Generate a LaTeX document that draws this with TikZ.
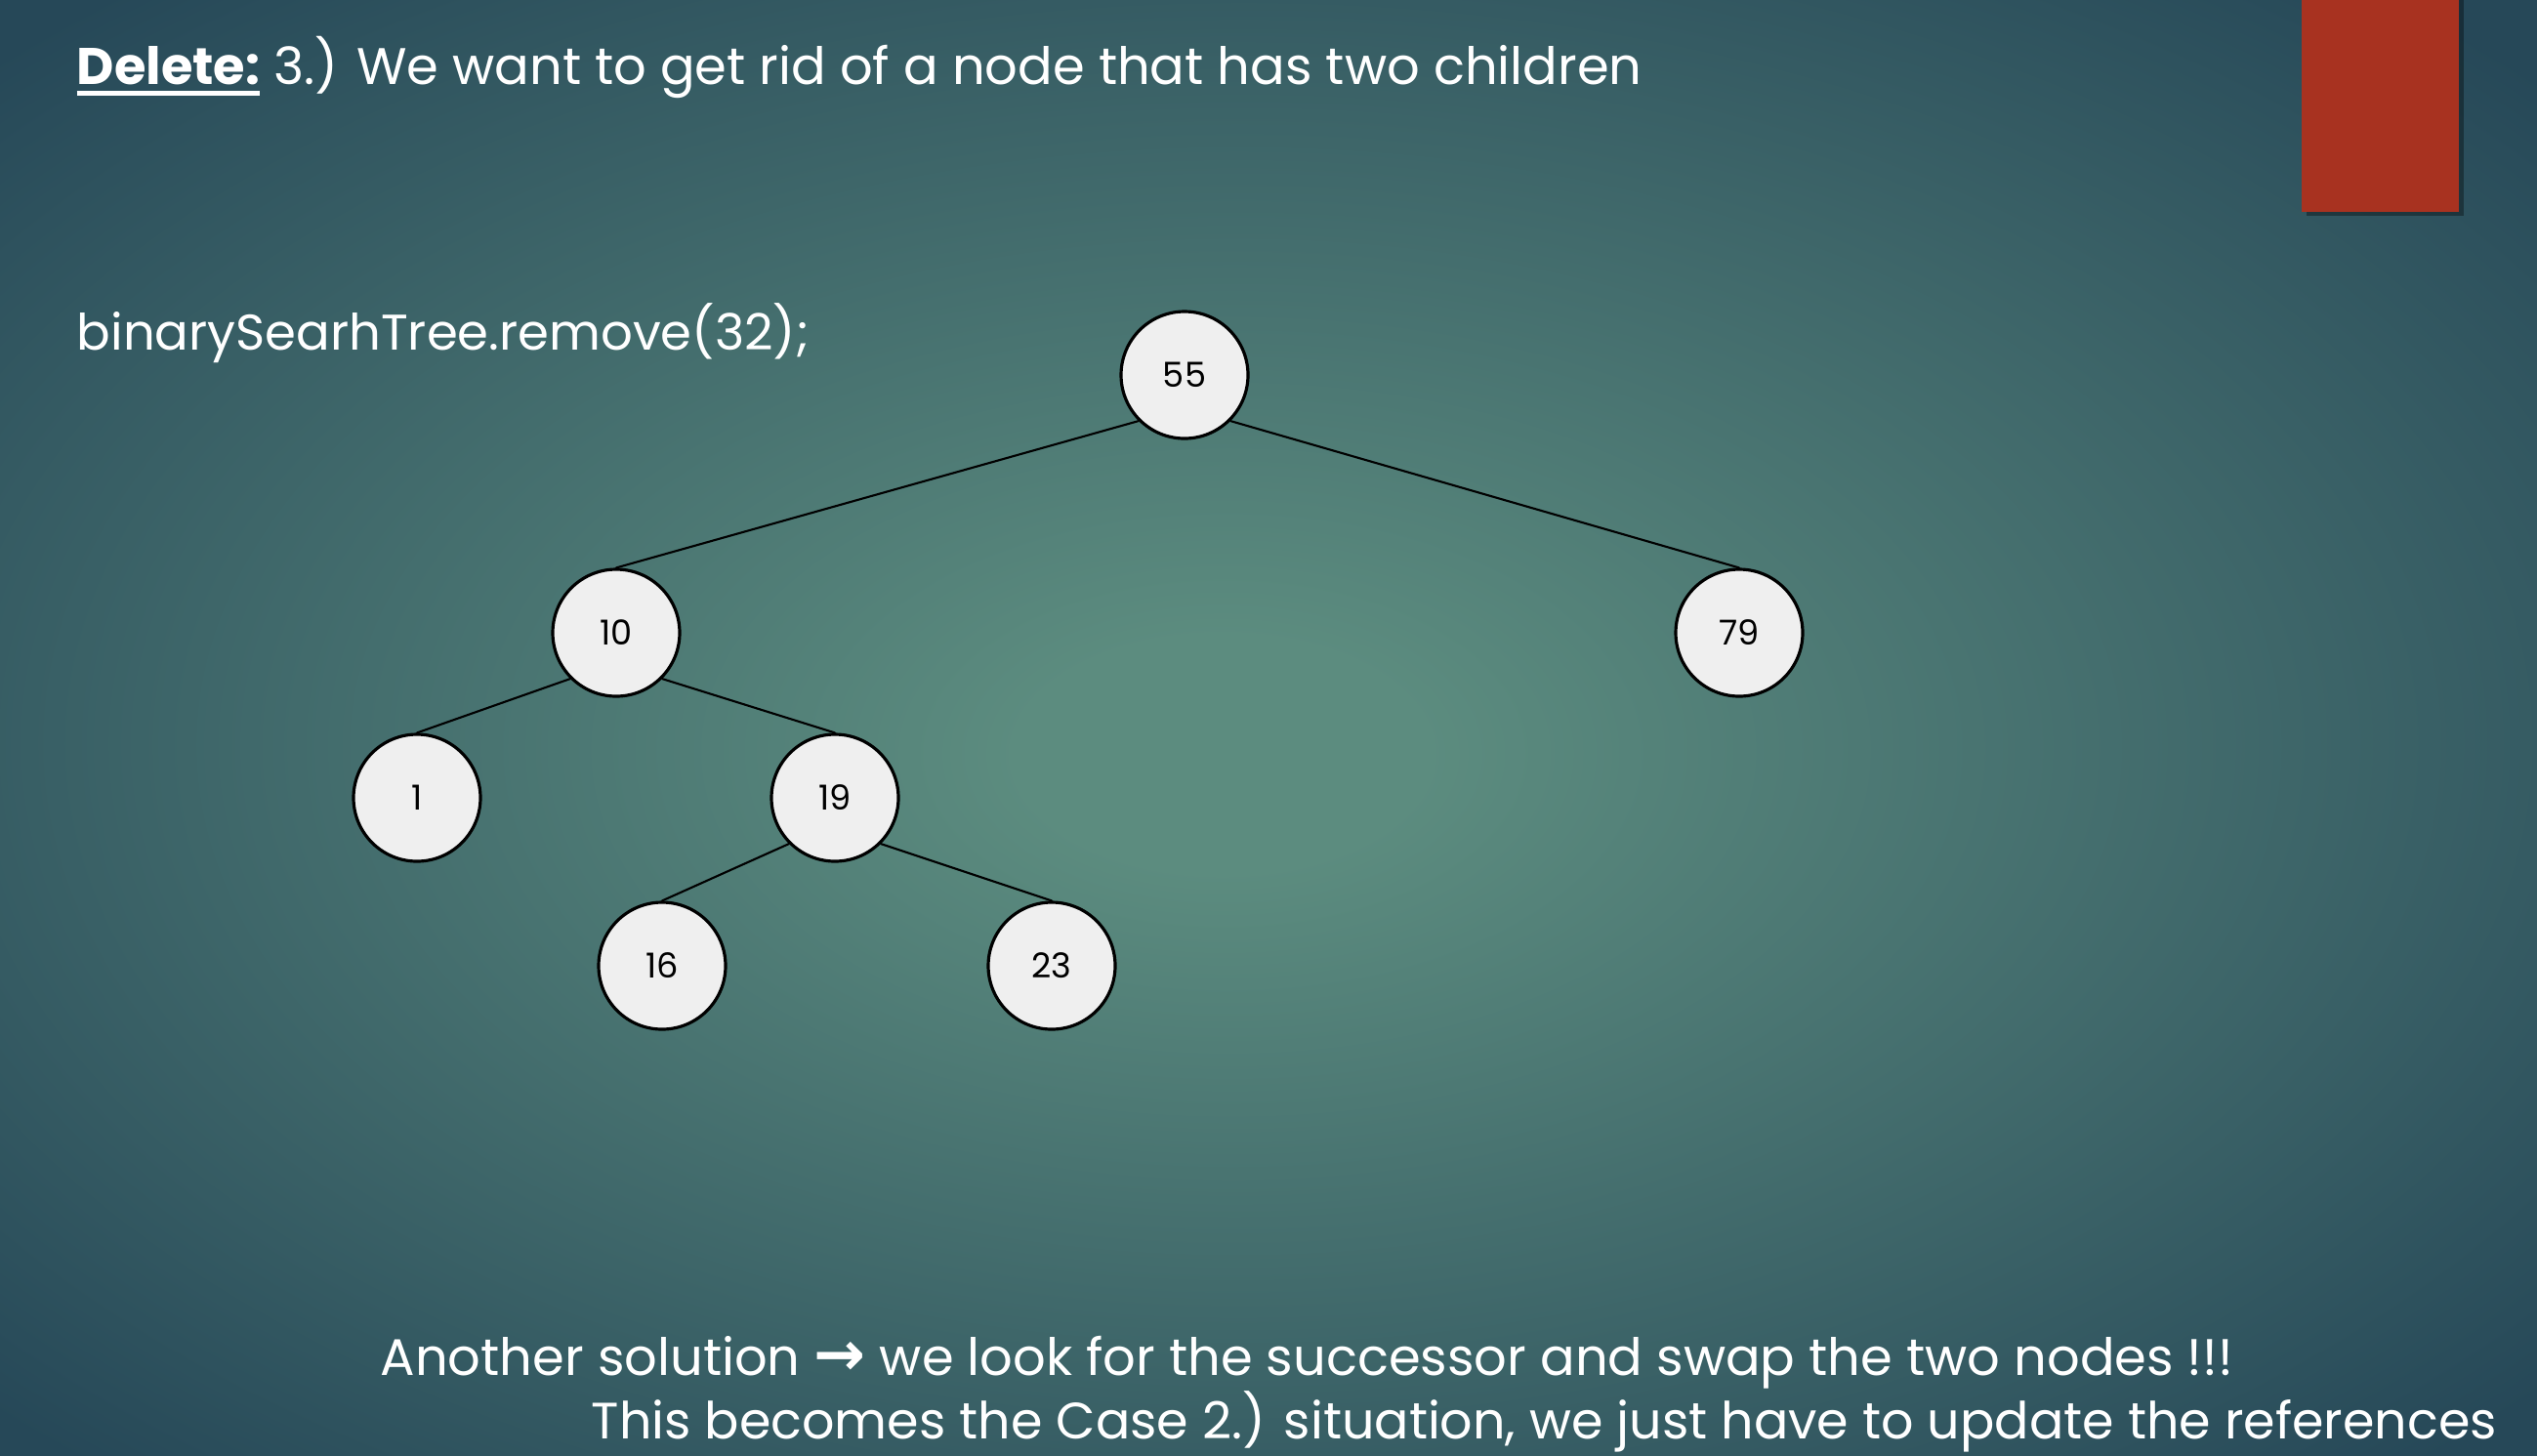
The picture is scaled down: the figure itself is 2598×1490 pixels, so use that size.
\documentclass[tikz,border=0pt]{standalone}
\usepackage{fontspec}
\setmainfont{Poppins}
\newfontfamily\arrowfont{DejaVu Sans}
\definecolor{bgin}{RGB}{92,140,127}
\definecolor{bgout}{RGB}{38,72,88}
\definecolor{barred}{RGB}{168,50,32}
\definecolor{nodefill}{RGB}{239,239,239}
\pgfdeclareradialshading{slidebg}{\pgfpoint{-1bp}{-1bp}}{color(0bp)=(bgin); color(4bp)=(bgin); color(34bp)=(bgout); color(50bp)=(bgout)}
\newcommand\thickul[1]{\setbox0\hbox{#1}\rlap{\rule[-3.5pt]{\wd0}{1.4pt}}\box0\relax}
\begin{document}
\begin{tikzpicture}[x=0.1mm,y=-0.1mm,line join=round,line cap=round,
	bst/.style={circle,draw=black,line width=0.9pt,fill=nodefill,minimum size=13mm,inner sep=0pt,font=\fontsize{10}{12}\selectfont},
	link/.style={line width=0.6pt},
	slide/.style={text=white,inner sep=0pt,font=\fontsize{15}{18}\selectfont}]
	\shade[shading=slidebg] (0,0) rectangle (2598,1490);
	\useasboundingbox (0,0) rectangle (2598,1490);
	% red bar top right
	\fill[black,opacity=0.35] (2362,0) rectangle (2523,221);
	\fill[barred] (2357,0) rectangle (2518,217);
	\node[slide,anchor=base west] (title) at (78,86) {\thickul{\textbf{Delete:}} 3.) We want to get rid of a node that has two children};
	\node[slide,anchor=base west,font=\fontsize{14.6}{18}\selectfont] (code) at (78,358) {binarySearhTree.remove(32);};
	% tree
	\node[bst] (n55) at (1213,384) {55};
	\node[bst] (n10) at (631,648) {10};
	\node[bst] (n79) at (1781,648) {79};
	\node[bst] (n1) at (427,817) {1};
	\node[bst] (n19) at (855,817) {19};
	\node[bst] (n16) at (678,989) {16};
	\node[bst] (n23) at (1077,989) {23};
	\draw[link]
	(n55.south west) -- (n10.north)
	(n55.south east) -- (n79.north)
	(n10.south west) -- (n1.north)
	(n10.south east) -- (n19.north)
	(n19.south west) -- (n16.north)
	(n19.south east) -- (n23.north)
	;
	\node[slide,anchor=base west] (note1) at (389,1408) {Another solution {\arrowfont\bfseries\fontsize{18}{18}\selectfont →} we look for the successor and swap the two nodes !!!};
	\node[slide,anchor=base west,font=\fontsize{14.9}{18}\selectfont] (note2) at (605,1473) {This becomes the Case 2.) situation, we just have to update the references};
\end{tikzpicture}
\end{document}
